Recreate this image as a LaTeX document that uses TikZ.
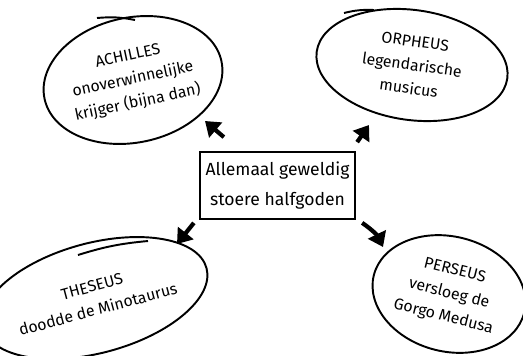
\documentclass[tikz,border=0pt]{standalone}
\usepackage{fontspec}
\setmainfont{Fira Sans}
\usetikzlibrary{shapes.geometric,arrows.meta}

\tikzset{
  hero/.style={ellipse, draw, line width=1.1pt, inner sep=0pt, align=center,
    font=\fontsize{9}{13.5}\selectfont},
  centerbox/.style={rectangle, draw, line width=1pt, align=center,
    minimum width=2.98cm, minimum height=1.34cm, font=\fontsize{10}{17}\selectfont},
  bigarrow/.style={line width=2.4pt, -{Triangle[length=8pt,width=11pt]}},
  overstroke/.style={line width=1.1pt}
}

\begin{document}
\begin{tikzpicture}[x=0.02cm,y=-0.02cm]
\useasboundingbox (0,0) rectangle (523,355);

\node[centerbox] (halfgoden) at (277.5,185.5) {Allemaal geweldig\\stoere halfgoden};

\node[hero, rotate=12, minimum width=3.2cm, minimum height=2.5cm] (achilles) at (133,80)
  {ACHILLES\\onoverwinnelijke\\krijger (bijna dan)};
\node[hero, rotate=-8, minimum width=3.85cm, minimum height=2.2cm] (orpheus) at (412,65)
  {ORPHEUS\\legendarische\\musicus};
\node[hero, rotate=15, minimum width=3.6cm, minimum height=2.2cm] (theseus) at (95,298)
  {THESEUS\\doodde de Minotaurus};
\node[hero, rotate=-14, minimum width=3.1cm, minimum height=2.3cm] (perseus) at (449,294)
  {PERSEUS\\versloeg de\\Gorgo Medusa};

% pen strokes where the circles overlap
\draw[overstroke] ([shift={(-36,-62)}]achilles.center) to[bend left=8] ([shift={(2,-60)}]achilles.center);
\draw[overstroke] ([shift={(-68,-52)}]orpheus.center) to[bend left=8] ([shift={(-38,-55)}]orpheus.center);
\draw[overstroke] ([shift={(-17,-43)}]theseus.center) to[bend left=6] ([shift={(53,-57)}]theseus.center);

% arrows
\draw[bigarrow] ([shift={(25,-14)}]halfgoden.north west) -- ([shift={(72,41)}]achilles.center);
\draw[bigarrow] ([shift={(1,-9)}]halfgoden.north east) -- ([shift={(-43,60)}]orpheus.center);
\draw[bigarrow] ([shift={(-5,3)}]halfgoden.south west) -- ([shift={(82,-54)}]theseus.center);
\draw[bigarrow] ([shift={(6,3)}]halfgoden.south east) to[bend left=15] ([shift={(-66,-47)}]perseus.center);
\end{tikzpicture}
\end{document}
